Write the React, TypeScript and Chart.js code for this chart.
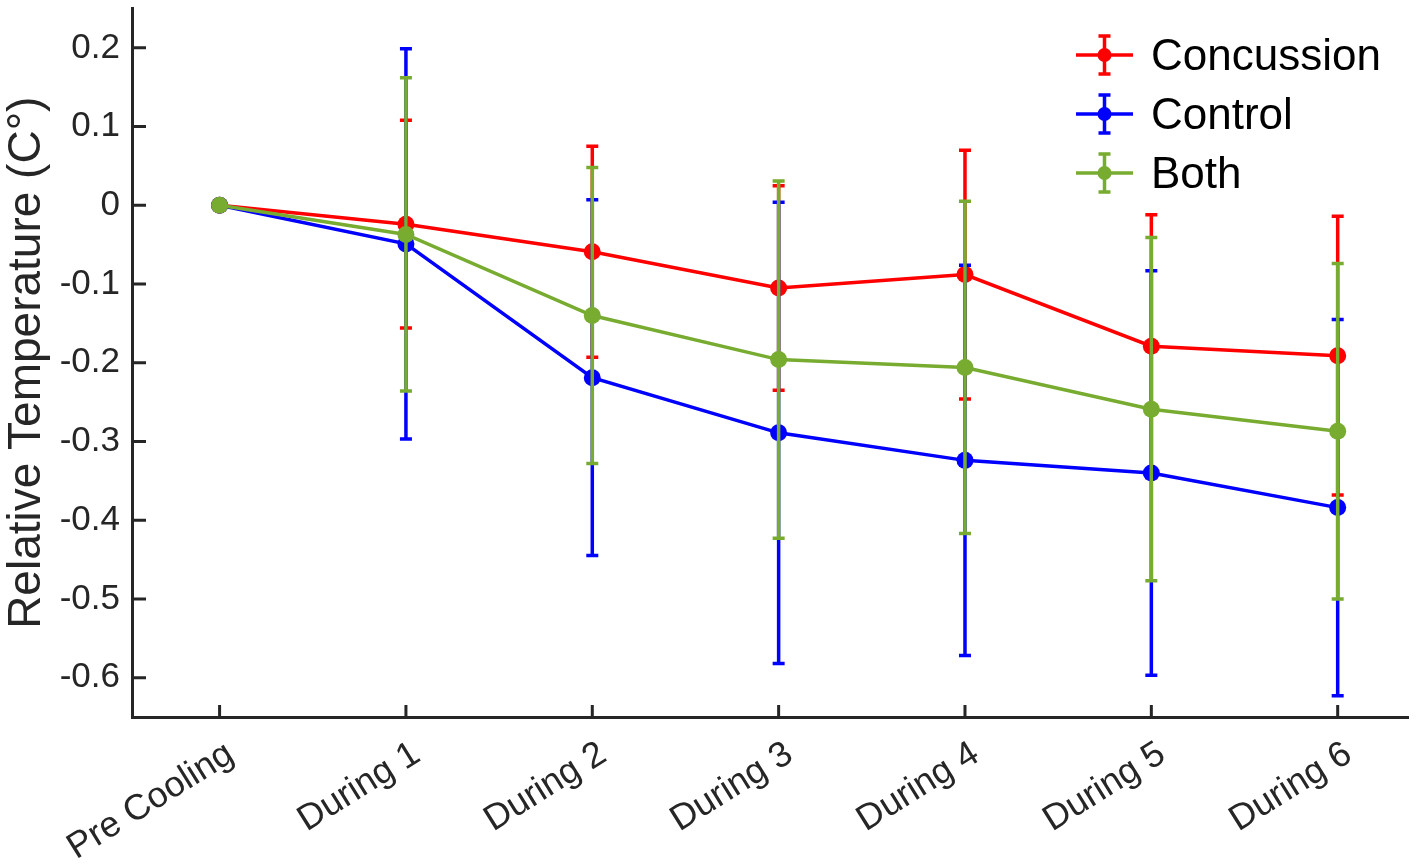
import { useEffect, useRef } from "react";
import { Chart, registerables } from "chart.js";

Chart.register(...registerables);

const CATEGORIES = [
  "Pre Cooling",
  "During 1",
  "During 2",
  "During 3",
  "During 4",
  "During 5",
  "During 6",
];

const CONCUSSION = [0, -0.024, -0.059, -0.105, -0.088, -0.179, -0.191];
const CONCUSSION_ERR = [0, 0.132, 0.134, 0.13, 0.158, 0.167, 0.177];

const CONTROL = [0, -0.049, -0.219, -0.289, -0.324, -0.34, -0.384];
const CONTROL_ERR = [0, 0.248, 0.226, 0.293, 0.248, 0.257, 0.239];

const BOTH = [0, -0.037, -0.14, -0.196, -0.206, -0.259, -0.287];
const BOTH_ERR = [0, 0.199, 0.188, 0.227, 0.211, 0.218, 0.213];

const Y_TICKS = [-0.6, -0.5, -0.4, -0.3, -0.2, -0.1, 0, 0.1, 0.2];

const SERIES = [
  { label: "Concussion", values: CONCUSSION, errors: CONCUSSION_ERR, color: "#ff0000" },
  { label: "Control", values: CONTROL, errors: CONTROL_ERR, color: "#0000ff" },
  { label: "Both", values: BOTH, errors: BOTH_ERR, color: "#77ac30" },
];

const AXIS = "#262626";
const FONT = "'Liberation Sans', Arial, sans-serif";

function drawErrorBar(ctx: CanvasRenderingContext2D, x: number, top: number, bottom: number, color: string) {
  ctx.save();
  ctx.strokeStyle = color;
  ctx.lineWidth = 3.5;
  ctx.beginPath();
  ctx.moveTo(x, top);
  ctx.lineTo(x, bottom);
  ctx.moveTo(x - 6, top);
  ctx.lineTo(x + 6, top);
  ctx.moveTo(x - 6, bottom);
  ctx.lineTo(x + 6, bottom);
  ctx.stroke();
  ctx.restore();
}

// error bars go under each series' own line
const errorBars = {
  id: "errorBars",
  beforeDatasetDraw(chart: any, args: any) {
    const s = SERIES[args.index];
    const y = chart.scales.y;
    const ctx = chart.ctx;
    args.meta.data.forEach((pt: any, i: number) => {
      const v = s.values[i];
      const e = s.errors[i];
      drawErrorBar(ctx, pt.x, y.getPixelForValue(v + e), y.getPixelForValue(v - e), s.color);
    });
  },
};

// MATLAB-style inward ticks + legend in the top right corner
const decorations = {
  id: "decorations",
  afterDraw(chart: any) {
    const ctx = chart.ctx;
    const { left, bottom } = chart.chartArea;
    const x = chart.scales.x;
    const y = chart.scales.y;
    ctx.save();
    ctx.strokeStyle = AXIS;
    ctx.lineWidth = 3;
    ctx.beginPath();
    Y_TICKS.forEach((t) => {
      const py = y.getPixelForValue(t);
      ctx.moveTo(left, py);
      ctx.lineTo(left + 14, py);
    });
    CATEGORIES.forEach((_, i) => {
      const px = x.getPixelForValue(i);
      ctx.moveTo(px, bottom);
      ctx.lineTo(px, bottom - 12);
    });
    ctx.stroke();

    const lx0 = 1076;
    const lx1 = 1133;
    const cx = (lx0 + lx1) / 2;
    SERIES.forEach((s, i) => {
      const ry = 55 + i * 59;
      ctx.strokeStyle = s.color;
      ctx.lineWidth = 3.5;
      ctx.beginPath();
      ctx.moveTo(lx0, ry);
      ctx.lineTo(lx1, ry);
      ctx.stroke();
      drawErrorBar(ctx, cx, ry - 19, ry + 19, s.color);
      ctx.fillStyle = s.color;
      ctx.beginPath();
      ctx.arc(cx, ry, 7, 0, Math.PI * 2);
      ctx.fill();
      ctx.fillStyle = "#000000";
      ctx.font = `44px ${FONT}`;
      ctx.textAlign = "left";
      ctx.textBaseline = "middle";
      ctx.fillText(s.label, 1151, ry + 3);
    });
    ctx.restore();
  },
};

export default function App() {
  const canvasRef = useRef<HTMLCanvasElement>(null);
  const chartRef = useRef<Chart | null>(null);

  useEffect(() => {
    document.body.style.margin = "0";
    if (!canvasRef.current) return;

    chartRef.current?.destroy();

    chartRef.current = new Chart(canvasRef.current, {
      type: "line",
      data: {
        datasets: SERIES.map((s, i) => ({
          label: s.label,
          data: s.values.map((v, k) => ({ x: k, y: v })),
          borderColor: s.color,
          backgroundColor: s.color,
          borderWidth: 3.5,
          pointRadius: 8.5,
          pointBorderWidth: 0,
          pointBackgroundColor: s.color,
          tension: 0,
          fill: false,
          order: SERIES.length - i,
        })),
      },
      options: {
        animation: false,
        responsive: true,
        maintainAspectRatio: false,
        layout: { padding: { top: 5, right: 7, left: 0, bottom: 0 } },
        plugins: {
          legend: { display: false },
          tooltip: { enabled: false },
        },
        scales: {
          x: {
            type: "linear",
            min: -0.47,
            max: 6.38,
            afterBuildTicks: (scale: any) => {
              scale.ticks = CATEGORIES.map((_, i) => ({ value: i }));
            },
            afterFit: (scale: any) => {
              scale.height = 148;
              scale.paddingLeft = 0;
              scale.paddingRight = 0;
            },
            grid: { display: false, drawTicks: false },
            border: { display: true, color: AXIS, width: 3 },
            ticks: {
              autoSkip: false,
              minRotation: 32,
              maxRotation: 32,
              padding: 16,
              labelOffset: 11,
              color: AXIS,
              font: { family: FONT, size: 36 },
              callback: (v: any) => CATEGORIES[v] ?? "",
            },
          },
          y: {
            min: -0.65,
            max: 0.25,
            afterBuildTicks: (scale: any) => {
              scale.ticks = Y_TICKS.map((t) => ({ value: t }));
            },
            afterFit: (scale: any) => {
              scale.width = 132;
              scale.paddingTop = 0;
              scale.paddingBottom = 0;
            },
            grid: { display: false, drawTicks: false },
            border: { display: true, color: AXIS, width: 3 },
            ticks: {
              padding: 12,
              color: AXIS,
              font: { family: FONT, size: 35 },
              callback: (v: any) => String(Number(Number(v).toFixed(1))),
            },
            title: {
              display: true,
              text: "Relative Temperature (C°)",
              color: AXIS,
              padding: { top: 0, bottom: 0 },
              font: { family: FONT, size: 46 },
            },
          },
        },
      },
      plugins: [errorBars, decorations],
    });

    return () => chartRef.current?.destroy();
  }, []);

  return (
    <div style={{ width: 1417, height: 865, position: "relative", background: "#fff" }}>
      <canvas ref={canvasRef} />
    </div>
  );
}
